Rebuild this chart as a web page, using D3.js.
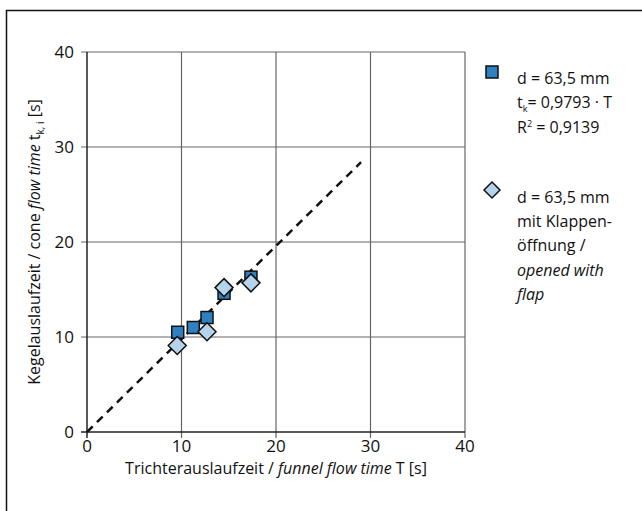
<!DOCTYPE html>
<html><head><meta charset="utf-8">
<script src="https://cdn.jsdelivr.net/npm/d3@7"></script>
<style>body{margin:0;background:#fff}svg{display:block}text{font-family:"Open Sans","Noto Sans",sans-serif;fill:#111}</style>
</head><body>
<script>
const xTicks = [0, 10, 20, 30, 40];
const yTicks = [0, 10, 20, 30, 40];
const squareT = [9.6, 11.25, 12.7, 14.5, 17.35];
const squareTk = [10.5, 11.0, 12.05, 14.6, 16.3];
const diamondT = [9.55, 12.7, 14.5, 17.35];
const diamondTk = [9.1, 10.55, 15.2, 15.7];
const slope = 0.9793;
const fitRange = [0, 29];

const W = 642, H = 511, FS = 16, TFS = 17;
const svg = d3.select("body").append("svg").attr("width", W).attr("height", H);
svg.append("path").attr("d", `M6.5,${H+2} V10.5 H${W+2}`).attr("fill","none").attr("stroke","#111").attr("stroke-width",1.5);

const x = d3.scaleLinear().domain([0,40]).range([87,465]);
const y = d3.scaleLinear().domain([0,40]).range([432,52]);

svg.append("g").selectAll("line").data(xTicks.slice(1)).join("line")
  .attr("x1", d=>x(d)).attr("x2", d=>x(d)).attr("y1", y(40)).attr("y2", y(0)+6)
  .attr("stroke","#666").attr("stroke-width",1.2);
svg.append("g").selectAll("line").data(yTicks.slice(1)).join("line")
  .attr("y1", d=>y(d)).attr("y2", d=>y(d)).attr("x1", x(0)-6).attr("x2", x(40))
  .attr("stroke","#666").attr("stroke-width",1.2);
svg.append("line").attr("x1",x(0)).attr("x2",x(0)).attr("y1",y(40)).attr("y2",y(0)+6).attr("stroke","#222").attr("stroke-width",1.5);
svg.append("line").attr("x1",x(0)-6).attr("x2",x(40)).attr("y1",y(0)).attr("y2",y(0)).attr("stroke","#222").attr("stroke-width",1.5);

svg.append("g").selectAll("text").data(xTicks).join("text")
  .attr("x", d=>x(d)).attr("y", 452).attr("text-anchor","middle").attr("font-size",TFS).text(d=>d);
svg.append("g").selectAll("text").data(yTicks).join("text")
  .attr("x", 74).attr("y", d=>y(d)+6).attr("text-anchor","end").attr("font-size",TFS).text(d=>d);

const xt = svg.append("text").attr("x",276).attr("y",474).attr("text-anchor","middle").attr("font-size",FS);
xt.append("tspan").text("Trichterauslaufzeit / ");
xt.append("tspan").attr("font-style","italic").text("funnel flow time");
xt.append("tspan").text(" T [s]");

const yt = svg.append("text").attr("transform","translate(40,242) rotate(-90)").attr("text-anchor","middle").attr("font-size",FS);
yt.append("tspan").text("Kegelauslaufzeit / cone ");
yt.append("tspan").attr("font-style","italic").text("flow time");
yt.append("tspan").text(" t");
yt.append("tspan").attr("font-size",10).attr("dy",4).text("k, i");
yt.append("tspan").attr("dy",-4).text(" [s]");

svg.append("line").attr("x1",x(fitRange[0])).attr("y1",y(slope*fitRange[0]))
  .attr("x2",x(fitRange[1])).attr("y2",y(slope*fitRange[1]))
  .attr("stroke","#111").attr("stroke-width",2.5).attr("stroke-dasharray","8,6");

const sq = 12, dm = 9;
const squares = squareT.map((t,i)=>({t, v:squareTk[i]}));
const diamonds = diamondT.map((t,i)=>({t, v:diamondTk[i]}));
svg.append("g").selectAll("rect").data(squares).join("rect")
  .attr("x", d=>x(d.t)-sq/2).attr("y", d=>y(d.v)-sq/2).attr("width",sq).attr("height",sq)
  .attr("fill","#2f80c1").attr("stroke","#111").attr("stroke-width",1.5);
svg.append("g").selectAll("path").data(diamonds).join("path")
  .attr("d", d=>`M${x(d.t)},${y(d.v)-dm} L${x(d.t)+dm},${y(d.v)} L${x(d.t)},${y(d.v)+dm} L${x(d.t)-dm},${y(d.v)} Z`)
  .attr("fill","#b6d3ec").attr("stroke","#111").attr("stroke-width",1.5);

svg.append("rect").attr("x",486).attr("y",66).attr("width",12).attr("height",12)
  .attr("fill","#2f80c1").attr("stroke","#111").attr("stroke-width",1.5);
svg.append("text").attr("x",517).attr("y",84).attr("font-size",FS).text("d = 63,5 mm");
const l2 = svg.append("text").attr("x",517).attr("y",108).attr("font-size",FS);
l2.append("tspan").text("t");
l2.append("tspan").attr("font-size",9).attr("dy",4).text("k");
l2.append("tspan").attr("dy",-4).text("= 0,9793 · T");
const l3 = svg.append("text").attr("x",517).attr("y",133).attr("font-size",FS);
l3.append("tspan").text("R");
l3.append("tspan").attr("font-size",9).attr("dy",-6).text("2");
l3.append("tspan").attr("dy",6).text(" = 0,9139");

svg.append("path").attr("d","M492,182 L500,190 L492,198 L484,190 Z")
  .attr("fill","#b6d3ec").attr("stroke","#111").attr("stroke-width",1.5);
const lg2 = [["d = 63,5 mm",false],["mit Klappen-",false],["öffnung /",false],["opened with",true],["flap",true]];
svg.append("g").selectAll("text").data(lg2).join("text")
  .attr("x",517).attr("y",(d,i)=>203+i*24.2).attr("font-size",FS)
  .attr("font-style",d=>d[1]?"italic":"normal").text(d=>d[0]);
</script>
</body></html>
